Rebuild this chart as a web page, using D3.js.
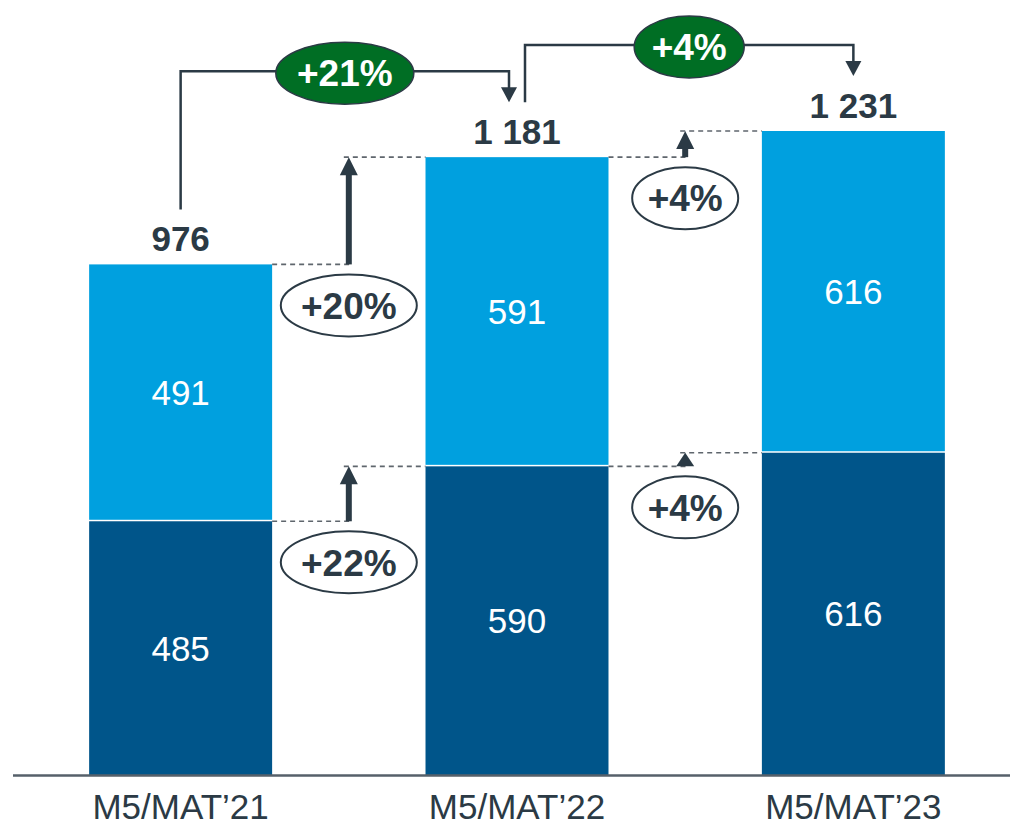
<!DOCTYPE html>
<html>
<head>
<meta charset="utf-8">
<script src="https://cdn.jsdelivr.net/npm/d3@7"></script>
<style>
  body { margin: 0; background: #fff; }
  text { font-family: "Liberation Sans", Arial, sans-serif; }
</style>
</head>
<body>
<script>
var w = 1010,
    h = 828;

// data
var categories = ["M5/MAT\u201921", "M5/MAT\u201922", "M5/MAT\u201923"];
var lowerValues = [485, 590, 616];
var upperValues = [491, 591, 616];
var totalValues = [976, 1181, 1231];
var totalGrowth = ["+21%", "+4%"];
var upperGrowth = ["+20%", "+4%"];
var lowerGrowth = ["+22%", "+4%"];

var darkText = "#2b3a45",
    lightBlue = "#00a0df",
    darkBlue = "#00558a",
    green = "#006e24";

var baseY = 775;

var x = d3.scaleBand()
    .domain(categories)
    .range([0, 1034])
    .paddingInner(0.456)
    .paddingOuter(0.265);

var y = d3.scaleLinear()
    .domain([0, d3.max(totalValues)])
    .range([baseY, 131]);

var fmt = d3.formatLocale({ decimal: ",", thousands: " ", grouping: [3], currency: ["", ""] }).format(",d");

var svg = d3.select("body").append("svg")
    .attr("width", w)
    .attr("height", h);

// bars
var bars = svg.append("g").attr("class", "bars");

bars.selectAll(".lower")
    .data(categories)
    .enter().append("rect")
    .attr("class", "lower")
    .attr("x", function(d) { return x(d); })
    .attr("width", x.bandwidth())
    .attr("y", function(d, i) { return y(lowerValues[i]); })
    .attr("height", function(d, i) { return baseY - y(lowerValues[i]); })
    .attr("fill", darkBlue);

bars.selectAll(".upper")
    .data(categories)
    .enter().append("rect")
    .attr("class", "upper")
    .attr("x", function(d) { return x(d); })
    .attr("width", x.bandwidth())
    .attr("y", function(d, i) { return y(totalValues[i]); })
    .attr("height", function(d, i) { return y(lowerValues[i]) - y(totalValues[i]) - 1.5; })
    .attr("fill", lightBlue);

// segment labels
bars.selectAll(".lower-label")
    .data(categories)
    .enter().append("text")
    .attr("x", function(d) { return x(d) + x.bandwidth() / 2; })
    .attr("y", function(d, i) { return (baseY + y(lowerValues[i])) / 2; })
    .attr("dy", "0.36em")
    .attr("text-anchor", "middle")
    .attr("font-size", 35)
    .attr("fill", "#fff")
    .text(function(d, i) { return lowerValues[i]; });

bars.selectAll(".upper-label")
    .data(categories)
    .enter().append("text")
    .attr("x", function(d) { return x(d) + x.bandwidth() / 2; })
    .attr("y", function(d, i) { return (y(lowerValues[i]) + y(totalValues[i])) / 2; })
    .attr("dy", "0.36em")
    .attr("text-anchor", "middle")
    .attr("font-size", 35)
    .attr("fill", "#fff")
    .text(function(d, i) { return upperValues[i]; });

// totals
bars.selectAll(".total-label")
    .data(categories)
    .enter().append("text")
    .attr("x", function(d) { return x(d) + x.bandwidth() / 2; })
    .attr("y", function(d, i) { return y(totalValues[i]) - 13; })
    .attr("text-anchor", "middle")
    .attr("font-size", 35)
    .attr("font-weight", "bold")
    .attr("fill", darkText)
    .text(function(d, i) { return fmt(totalValues[i]); });

// axis line
svg.append("line")
    .attr("x1", 13).attr("x2", w)
    .attr("y1", baseY + 0.5).attr("y2", baseY + 0.5)
    .attr("stroke", "#56606a")
    .attr("stroke-width", 2.5);

svg.append("g")
    .attr("class", "axis axis--x")
    .attr("transform", "translate(0," + baseY + ")")
    .call(d3.axisBottom(x).tickSize(0).tickPadding(0))
    .call(function(g) {
        g.select(".domain").remove();
        g.selectAll("text")
            .attr("y", 44)
            .attr("dy", 0)
            .attr("font-size", 35)
            .attr("font-family", "Liberation Sans, Arial, sans-serif")
            .attr("fill", darkText);
    });

// segment growth arrows
function segArrow(i, fromVals, toVals, label) {
    var x0 = x(categories[i]) + x.bandwidth(),
        x1 = x(categories[i + 1]),
        xm = (x0 + x1) / 2,
        yLow = y(fromVals[i]),
        yHigh = y(toVals[i + 1]);
    var g = svg.append("g").attr("class", "seg-growth");

    g.append("line")
        .attr("x1", x0).attr("x2", xm + 4)
        .attr("y1", yLow).attr("y2", yLow)
        .attr("stroke", "#5f666d").attr("stroke-width", 1.6)
        .attr("stroke-dasharray", "5,4");
    g.append("line")
        .attr("x1", xm - 5).attr("x2", x1)
        .attr("y1", yHigh).attr("y2", yHigh)
        .attr("stroke", "#5f666d").attr("stroke-width", 1.6)
        .attr("stroke-dasharray", "5,4");

    var len = yLow - yHigh,
        head = Math.min(18, len);
    if (len > head) {
        g.append("line")
            .attr("x1", xm).attr("x2", xm)
            .attr("y1", yLow).attr("y2", yHigh + head - 1)
            .attr("stroke", darkText).attr("stroke-width", 6);
    }
    g.append("path")
        .attr("d", "M" + (xm - 9) + "," + (yHigh + head) + "L" + xm + "," + yHigh + "L" + (xm + 9) + "," + (yHigh + head) + "Z")
        .attr("fill", darkText);

    g.append("ellipse")
        .attr("cx", xm).attr("cy", yLow + 41)
        .attr("rx", label.length > 3 ? 68 : 53).attr("ry", 31)
        .attr("fill", "#fff")
        .attr("stroke", darkText).attr("stroke-width", 2);
    g.append("text")
        .attr("x", xm).attr("y", yLow + 41)
        .attr("dy", "0.36em")
        .attr("text-anchor", "middle")
        .attr("font-size", 37)
        .attr("font-weight", "bold")
        .attr("fill", darkText)
        .text(label);
}

[0, 1].forEach(function(i) {
    segArrow(i, totalValues, totalValues, upperGrowth[i]);
    segArrow(i, lowerValues, lowerValues, lowerGrowth[i]);
});

// total growth brackets
function bracket(i, label) {
    var c0 = x(categories[i]) + x.bandwidth() / 2 + (i > 0 ? 8 : 0),
        c1 = x(categories[i + 1]) + x.bandwidth() / 2 - (i + 1 < categories.length - 1 ? 8 : 0),
        y0 = y(totalValues[i]) - 55,
        y1 = y(totalValues[i + 1]) - 55,
        top = Math.min(y0, y1) - 31;
    var g = svg.append("g").attr("class", "bracket");

    g.append("path")
        .attr("d", "M" + c0 + "," + y0 + "V" + top + "H" + c1 + "V" + (y1 - 13))
        .attr("fill", "none")
        .attr("stroke", darkText)
        .attr("stroke-width", 2.5);
    g.append("path")
        .attr("d", "M" + (c1 - 8) + "," + (y1 - 15) + "L" + c1 + "," + y1 + "L" + (c1 + 8) + "," + (y1 - 15) + "Z")
        .attr("fill", darkText);

    var cx = (c0 + c1) / 2;
    g.append("ellipse")
        .attr("cx", cx).attr("cy", top + 2)
        .attr("rx", label.length > 3 ? 69 : 55).attr("ry", 31)
        .attr("fill", green)
        .attr("stroke", darkText).attr("stroke-width", 1.5);
    g.append("text")
        .attr("x", cx).attr("y", top + 2)
        .attr("dy", "0.36em")
        .attr("text-anchor", "middle")
        .attr("font-size", 37)
        .attr("font-weight", "bold")
        .attr("fill", "#fff")
        .text(label);
}

totalGrowth.forEach(function(lab, i) { bracket(i, lab); });
</script>
</body>
</html>
